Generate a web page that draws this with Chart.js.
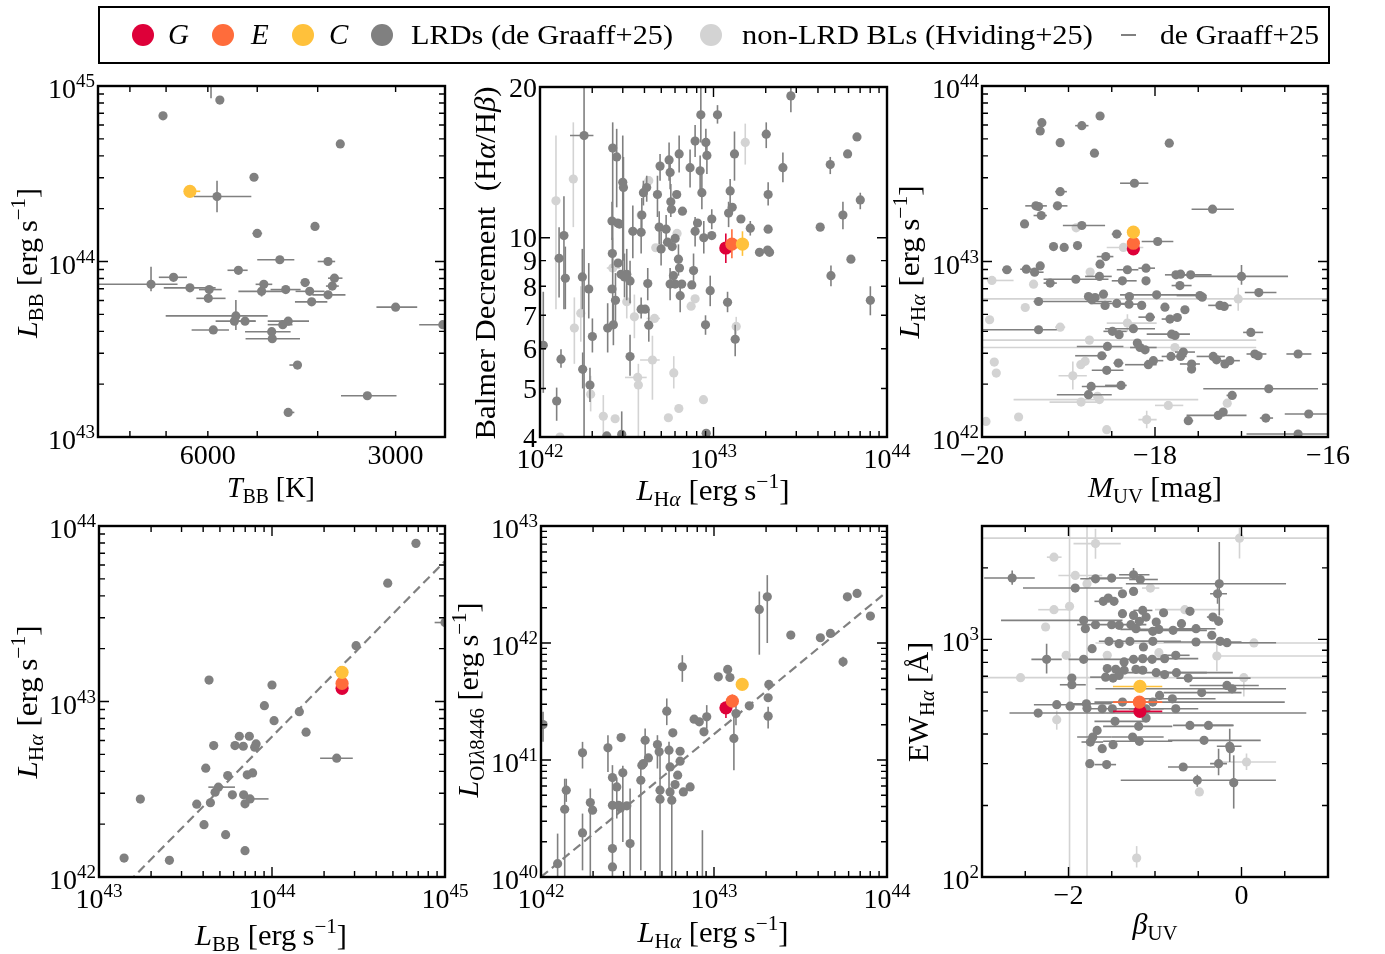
<!DOCTYPE html>
<html><head><meta charset="utf-8">
<script src="https://cdn.jsdelivr.net/npm/chart.js@4/dist/chart.umd.min.js"></script>
<style>
html,body{margin:0;padding:0;background:#fff;}
body{width:1385px;height:954px;position:relative;overflow:hidden;}
canvas{position:absolute;left:0;top:0;}
</style></head>
<body>
<canvas id="c1" width="1385" height="954"></canvas>
<canvas id="c2" width="1385" height="954"></canvas>
<canvas id="c3" width="1385" height="954"></canvas>
<canvas id="c4" width="1385" height="954"></canvas>
<canvas id="c5" width="1385" height="954"></canvas>
<canvas id="c6" width="1385" height="954"></canvas>
<canvas id="lg" width="1385" height="954"></canvas>
<script>
// ---------------- DATA ----------------
// rows: [x, y, xLo, xHi, yLo, yHi]  (luminosities / EW given as log10 values)
const legendLabels = ['G', 'E', 'C', 'LRDs (de Graaff+25)', 'non-LRD BLs (Hviding+25)', 'de Graaff+25'];

// Panel 1: T_BB [K] vs log L_BB
const p1LRD = [
[7080,44.83],[5740,44.92],[5930,45.10,null,null,44.93,45.2],[3680,44.67],[5060,44.48],
[5800,44.37,5110,6320,44.28,44.46],[4040,44.20],[5000,44.16,4910,5090],[4600,44.01,4360,5000],
[3850,44.00,3750,4000],[5360,43.95,5180,5580],[6810,43.91,6480,7190],[7400,43.87,6710,9300,43.83,43.97],
[3760,43.905,3650,3850],[3790,43.86,3700,3880],[6410,43.85,5830,7060],[5970,43.84,5700,6200],
[4880,43.87,4730,5030],[4920,43.83,4500,5360,43.80,43.87],[4500,43.84,4260,4760],[4190,43.88,4120,4260],
[4120,43.83,3900,4340],[3850,43.81,3610,4080],[5990,43.79,5620,6260],[4090,43.77,3860,4350],
[3000,43.74,2770,3220],[5410,43.69,4810,7010,43.61,43.78],[5440,43.66,5030,5830],[5230,43.66,5030,5480],
[4460,43.66,4130,4810],[4550,43.64,4390,4810],[5880,43.61,5550,6370],[4740,43.60,4420,5230],
[4730,43.56,4270,5220],[2520,43.64,2400,2750],[4310,43.41,4260,4440],[3330,43.235,2990,3670],
[4460,43.14,4360,4500]
];
const p1C = [[6410,44.40,6170,6450]];

// Panel 2: log L_Halpha vs Balmer decrement
const p2LRD = [
[42.019,6.1,null,null,4.9,7.8],[42.096,4.72,null,null,4.31,5.02],[42.110,9.1,null,null,7.6,10.5],
[42.121,5.72,null,null,5.5,5.99],[42.138,10.1,null,null,7.2,12.1],[42.146,8.3,null,null,7.2,9.6],
[42.244,8.35,null,null,7.2,9.5],[42.254,16.0,42.173,42.308,4.0,20.5],[42.246,5.46,null,null,5.0,5.9],
[42.281,7.9,null,null,6.9,8.9],[42.288,5.08,null,null,4.7,5.5],[42.302,6.35,null,null,5.9,6.9],
[42.385,4.02],[42.390,6.6,null,null,5.9,7.4],[42.419,15.1,null,null,6.8,17.0],[42.415,10.8,null,null,9.9,11.8],
[42.417,9.3,null,null,8.7,10.0],[42.415,7.9],[42.423,6.7,null,null,6.1,7.4],[42.435,7.5,null,null,6.6,8.5],
[42.442,14.5,null,null,11.5,16.5],[42.448,10.7],[42.450,8.9],[42.458,10.65],[42.467,8.45],
[42.471,4.05,null,null,3.9,4.5],[42.477,12.9,null,null,8.2,16.0],[42.481,12.6,null,null,9.0,14.5],
[42.487,8.35,null,null,7.6,9.3],[42.500,8.45,null,null,7.5,9.5],[42.519,8.2,null,null,7.4,9.0],
[42.519,5.79,null,null,5.3,6.4],[42.535,10.3,null,null,9.1,11.6],[42.583,10.25,null,null,9.3,11.2],
[42.587,11.1,null,null,10.3,12.0],[42.596,12.3,null,null,11.6,13.0],[42.615,12.6,null,null,11.8,13.3],
[42.621,8.1,null,null,7.5,8.7],[42.583,7.2,null,null,6.9,7.6],[42.606,7.2],[42.627,6.69,null,null,6.2,7.2],
[42.677,12.2,null,null,11.0,13.3],[42.687,10.5,null,null,9.7,11.3],[42.692,13.9,null,null,13.0,14.7],
[42.698,9.5,null,null,8.8,10.3],[42.744,14.3,null,null,13.0,15.5],[42.750,13.5,null,null,12.5,14.5],
[42.727,10.4,null,null,9.7,11.1],[42.735,9.8],[42.754,11.8,null,null,11.0,12.8],[42.758,11.4],[42.762,9.6],
[42.750,8.08,null,null,7.5,8.7],[42.769,8.4],[42.779,9.97],[42.788,12.2],[42.798,9.06,null,null,8.4,9.7],
[42.804,8.7],[42.802,14.7,null,null,13.5,16.0],[42.808,7.66,null,null,7.1,8.2],[42.779,8.08],[42.817,8.08],
[42.821,11.3],[42.865,13.8,null,null,12.6,15.0],[42.875,8.05],[42.885,8.6,null,null,8.0,9.3],
[42.894,15.6,null,null,14.5,16.8],[42.894,10.3,null,null,9.6,11.0],[42.908,10.7],
[42.923,13.6,null,null,12.5,14.6],[42.927,17.6,null,null,15.5,20.5],[42.933,12.3,null,null,11.4,13.4],
[42.944,10.0,null,null,9.3,10.8],[42.956,15.5,null,null,14.5,16.5],[42.962,14.6,null,null,13.4,15.8],
[42.958,4.07],[42.954,6.7,null,null,6.4,7.0],[42.981,7.84,null,null,7.3,8.4],[42.990,10.9,null,null,10.4,11.4],
[42.990,10.1],[43.023,17.6,null,null,16.9,18.4],[43.081,7.43,null,null,7.1,7.8],[43.087,11.2,null,null,10.5,11.8],
[43.096,12.4,null,null,11.6,13.1],[43.108,11.5],[43.121,14.7,null,null,13.0,16.3],[43.125,6.27,null,null,5.8,6.7],
[43.158,10.9],[43.212,10.45,null,null,10.1,10.8],[43.265,9.35],[43.304,16.1,null,null,15.1,17.0],
[43.315,12.2,null,null,11.6,12.9],[43.315,10.4],[43.312,9.45],[43.323,9.35],[43.400,13.8,null,null,12.9,14.8],
[43.446,19.2,null,null,17.8,20.5],[43.615,10.5],[43.673,14.0,null,null,13.4,14.5],[43.677,8.4,null,null,8.0,8.8],
[43.746,11.1,null,null,10.4,11.8],[43.773,14.7],[43.792,9.06],[43.827,15.9],[43.846,11.9,null,null,11.4,12.3],
[43.904,7.5,null,null,7.0,8.0]
];
const p2BL = [
[42.092,11.85,null,null,7.2,16.0],[42.192,13.1,null,null,10.5,17.0],[42.235,7.07,null,null,6.2,8.0],
[42.198,6.6,null,null,5.6,7.6],[42.115,4.0],[42.292,4.87,null,null,4.5,5.3],[42.365,4.4,null,null,4.0,4.85],
[42.433,4.35],[42.419,8.7,42.385,42.462],[42.500,7.45,null,null,6.9,8.0],[42.544,6.95,null,null,6.3,7.7],
[42.563,5.26,42.49,42.615],[42.567,5.08,null,null,3.9,5.6],[42.648,5.7,42.577,42.69,4.75,6.37],
[42.660,6.9,42.615,42.692],[42.667,9.55],[42.583,11.1],[42.627,13.0],[42.740,4.37],
[42.771,5.37,null,null,5.0,5.8],[42.800,4.56],[42.790,10.2],[42.871,7.3],[42.894,7.55],[42.942,4.75],
[43.131,6.65,null,null,6.4,6.95],[43.183,15.5,null,null,14.0,16.9]
];
const p2G = [[43.071,9.54,null,null,8.9,10.2]];
const p2E = [[43.106,9.71,null,null,9.1,10.4]];
const p2C = [[43.167,9.71,null,null,9.2,10.3]];

// Panel 3: M_UV vs log L_Halpha
const p3LRD = [
[-19.308,43.791,-19.35,-19.27],[-19.327,43.744,-19.37,-19.29],[-18.846,43.774,-18.923,-18.769],[-18.635,43.829],
[-19.096,43.677],[-18.700,43.617],[-17.835,43.674,-17.885,-17.788],[-18.238,43.446,-18.404,-18.077],
[-19.096,43.398,-19.154,-19.019],[-17.335,43.298,-17.577,-17.088],[-19.377,43.317,-19.500,-19.250],[-19.346,43.313],
[-19.127,43.317,-19.181,-19.012],[-19.315,43.262,-19.404,-19.250],[-19.508,43.214],[-18.846,43.205,-19.065,-18.577],
[-18.442,43.156,-18.500,-18.385],[-17.969,43.114,-18.154,-17.788],[-19.173,43.085],[-19.050,43.080],[-18.896,43.091],
[-18.569,43.028,-18.673,-18.481],[-18.635,42.985],[-19.712,42.953,-19.769,-19.654],[-19.488,42.956,-19.558,-19.423],
[-19.327,42.975],[-19.392,42.939,-19.442,-19.288],[-18.319,42.953,-18.442,-18.192],[-18.104,42.962,-18.192,-18.000],
[-19.212,42.877,-19.288,-19.135],[-18.915,42.899,-19.288,-18.538],[-18.642,42.915,-18.808,-18.500],
[-18.377,42.890,-18.500,-18.212],[-18.104,42.890],[-17.758,42.924,-17.885,-17.615],[-17.704,42.928],
[-17.588,42.924,-17.750,-17.346],[-17.712,42.863,-17.808,-17.577],[-17.000,42.915,-17.596,-16.462,42.868,42.980],
[-16.800,42.823,-16.962,-16.596],[-19.346,42.772,-19.404,-18.500],[-18.769,42.800],[-18.730,42.782],[-18.692,42.795],
[-18.596,42.814],[-18.577,42.750],[-18.442,42.761,-18.750,-18.288],[-18.296,42.800],[-18.300,42.757,-18.404,-18.135],
[-18.154,42.750],[-17.981,42.810,-18.404,-17.481],[-17.885,42.740],[-17.654,42.725],[-17.481,42.806,-17.750,-17.404],
[-17.454,42.797],[-17.250,42.750,-17.385,-17.115],[-17.200,42.744],[-18.058,42.683,-18.192,-18.000],
[-17.827,42.672,-17.923,-17.731],[-17.742,42.681],[-18.250,42.617,-18.577,-18.000],[-18.492,42.602,-18.596,-18.327],
[-18.415,42.583],[-17.808,42.586,-18.096,-17.596],[-17.769,42.579],[-16.892,42.596,-16.981,-16.750],
[-19.346,42.611,-20.100,-19.135],[-18.550,42.516,-18.904,-18.365],[-18.204,42.535],[-18.173,42.510,-18.288,-17.981],
[-18.115,42.497],[-17.673,42.484,-17.769,-17.538],[-18.615,42.463,-18.923,-18.558],[-18.423,42.421,-18.481,-18.365],
[-18.019,42.435,-18.096,-17.904],[-17.815,42.459,-17.923,-17.635],[-17.704,42.459],[-17.577,42.416,-17.712,-17.481],
[-17.577,42.387],[-17.327,42.459,-17.519,-17.192],[-17.288,42.440],[-17.192,42.416],[-17.135,42.435,-17.269,-17.019],
[-16.846,42.473,-16.942,-16.712],[-16.808,42.463],[-16.346,42.473,-16.481,-16.192],[-18.077,42.412,-18.346,-17.981],
[-18.558,42.380,-18.731,-18.365],[-18.738,42.288,-18.846,-18.365],[-18.392,42.294,-18.577,-18.327],
[-18.769,42.241,-19.135,-18.500],[-16.685,42.275,-17.442,-16.115],[-17.108,42.237,-17.173,-17.058],
[-17.615,42.093,-17.654,-17.558],[-17.269,42.123,-17.635,-16.942],[-17.212,42.142],[-16.719,42.108,-16.788,-16.635],
[-16.223,42.131,-16.500,-15.900],[-16.346,42.017,-16.942,-15.900]
];
const p3BL = [
[-19.885,42.892,-19.942,-19.635],[-19.404,42.871],[-19.500,42.738],[-19.912,42.668,-19.960,-19.865],
[-19.096,42.626,-19.154,-19.038],[-18.319,42.649,-18.558,-17.981,42.600,42.700],[-18.758,42.552,-20.500,-16.830],
[-17.770,42.510,-20.500,-16.830],[-17.038,42.787,-20.500,-15.500,42.720,42.850],[-19.858,42.427],[-19.835,42.364],
[-18.808,42.431],[-18.858,42.412],[-18.950,42.349,-19.115,-18.788,42.270,42.430],[-18.642,42.213,-19.635,-17.500],
[-18.665,42.232],[-18.854,42.199,-19.219,-18.615],[-17.846,42.180,-18.000,-17.673],[-17.165,42.193],
[-18.096,42.099,-18.192,-17.981,42.050,42.150],[-19.577,42.114],[-19.954,42.089],[-18.558,42.042],
[-18.912,43.192],[-18.365,43.080,-18.558,-18.135],[-18.750,42.940]
];
const p3G = [[-18.25,43.072]];
const p3E = [[-18.25,43.104]];
const p3C = [[-18.25,43.167]];

// Panel 4: log L_BB vs log L_Halpha
const p4LRD = [
[43.145,42.108],[43.239,42.444],[43.407,42.095],[43.565,42.415],[43.607,42.298],[43.617,42.620],[43.636,43.122],
[43.644,42.423],[43.663,42.749],[43.671,42.483],[43.690,42.512,43.632,43.786],[43.732,42.241],[43.744,42.578],
[43.771,42.468],[43.786,42.749],[43.811,42.802],[43.834,42.745],[43.836,42.468],[43.844,42.417],[43.844,42.150],
[43.869,42.802],[43.857,42.582],[43.888,42.593],[43.908,42.758],[43.900,42.740],[43.873,42.445,43.855,43.980],
[43.956,42.976],[44.000,43.094],[44.012,42.891],[44.158,42.942],[44.197,42.825],[44.374,42.677,44.278,44.467],
[44.486,43.318],[44.669,43.674],[44.832,43.901],[45.000,43.450,44.940,45.100]
];
const p4G = [[44.405,43.075]];
const p4E = [[44.405,43.103]];
const p4C = [[44.405,43.166]];
const p4Relation = [[43.0,41.8],[45.0,43.8]];

// Panel 5: log L_Halpha vs log L_OI8446
const p5LRD = [
[42.012,41.303,null,null,41.155,41.412],[42.096,40.114,null,null,39.9,40.371],[42.137,40.579,null,null,39.9,40.84],
[42.146,40.742,null,null,40.642,40.84],[42.240,41.061,null,null,40.927,41.155],[42.240,40.377,null,null,40.057,40.542],
[42.285,40.636,null,null,39.9,40.756],[42.298,40.571],[42.387,41.104,null,null,40.898,41.212],
[42.413,40.850,null,null,39.9,40.956],[42.413,40.613],[42.413,40.243],[42.413,40.086],
[42.438,40.770,null,null,40.5,40.85],[42.448,40.613],[42.463,41.192],[42.473,40.890,null,null,40.3,40.95],
[42.460,40.590],[42.496,40.608],[42.515,40.286,null,null,39.9,40.756],[42.577,40.827,null,null,40.057,40.956],
[42.583,40.955],[42.602,41.169,null,null,40.984,41.269],[42.621,41.018],[42.592,40.970],
[42.673,41.132,null,null,40.927,41.212],[42.683,41.070],[42.688,40.742,null,null,39.9,41.04],[42.688,40.665],
[42.727,41.417,null,null,41.298,41.526],[42.740,41.084,null,null,40.727,41.155],[42.746,40.941],[42.746,40.727],
[42.756,40.656,null,null,39.9,40.75],[42.762,41.232],[42.775,40.790],[42.790,40.870],[42.804,41.075],[42.804,40.990],
[42.823,40.727],[42.817,41.797,null,null,41.668,41.896],[42.862,40.770],[42.885,41.349],[42.915,41.326],
[42.942,41.241],[42.958,41.369,null,null,41.269,41.469],[43.025,41.711],[43.079,41.774],[43.092,41.705],
[43.127,41.397,null,null,41.298,41.497],[43.115,41.184,null,null,40.913,41.383],[43.204,41.463],
[43.262,42.287,null,null,41.9,42.44],[43.308,42.395,null,null,42.0,42.58],[43.313,41.532],[43.317,41.646],
[43.313,41.375,null,null,41.27,41.455],[43.444,42.068],[43.615,42.045],[43.673,42.082],
[43.746,41.839,null,null,41.797,41.882],[43.771,42.395],[43.827,42.424],[43.904,42.230],
[42.933,39.800,null,null,39.7,40.4]
];
const p5G = [[43.069,41.446,null,null,41.36,41.50]];
const p5E = [[43.106,41.503,null,null,41.46,41.56]];
const p5C = [[43.163,41.646,null,null,41.60,41.70]];
const p5Relation = [[42.0,40.0],[44.0,42.44]];

// Panel 6: beta_UV vs log EW_Halpha
const p6LRD = [
[-2.651,3.258,-2.975,-2.390,3.23,3.29],[-1.922,3.216,-2.526,-1.376],[-1.688,3.255,-1.864,-1.454],
[-1.501,3.258,-1.766,-1.279],[-1.248,3.272,-1.415,-1.064,3.25,3.30],[-1.170,3.252,-1.298,-0.967],
[-0.257,3.234,-1.337,0.515,3.101,3.41],[-0.277,3.192,-0.363,-0.168,3.15,3.227],[-1.598,3.160,-1.700,-1.500],
[-1.540,3.174],[-1.474,3.160],[-1.376,3.192],[-1.248,3.202],[-1.376,3.108],[-1.248,3.101],
[-1.142,3.122,-1.250,-1.030],[-1.103,3.094],[-0.901,3.112],[-0.596,3.118],[-1.825,3.080,-2.780,-1.376],
[-1.805,3.045],[-1.688,3.062],[-1.501,3.062,-1.900,-1.100],[-1.415,3.059],[-1.279,3.062],[-1.220,3.045],
[-1.181,3.076],[-0.986,3.073],[-0.955,3.042,-1.400,-0.500],[-1.025,3.034],[-0.791,3.038,-1.200,-0.400],
[-0.694,3.066],[-0.526,3.045,-0.800,-0.300],[-0.331,3.094,-0.400,-0.250],[-0.265,3.076],
[-1.532,2.992,-1.649,-0.986],[-1.415,2.982],[-1.290,2.992],[-1.025,2.992,-1.300,-0.700],
[-0.526,2.989,-0.900,0.000],[-0.343,3.017],[-0.246,2.992],[-0.168,2.986,-0.300,0.400],[-1.727,2.961],
[-1.134,2.968],[-2.253,2.916,-2.429,-2.078,2.856,2.982],[-1.825,2.916,-2.000,-1.600],[-1.357,2.905],
[-1.248,2.916,-1.600,-0.900],[-1.142,2.919],[-1.033,2.916],[-0.889,2.919,-1.200,-0.500],
[-0.760,2.933,-0.900,-0.600],[-1.552,2.877],[-1.454,2.874],[-1.357,2.870],[-1.220,2.874],[-1.142,2.870],
[-0.986,2.860,-1.400,-0.400],[-0.889,2.852],[-0.752,2.860,-1.000,-0.100],[-0.616,2.837,-0.752,0.105],
[-1.571,2.841,-1.750,-1.400],[-1.485,2.837],[-1.415,2.848],[-1.961,2.837],[-1.961,2.809,-2.100,-1.800],
[-0.460,2.776,-0.900,0.000],[-0.168,2.806,-0.600,0.200],[-0.109,2.792,-1.688,0.515],
[-2.136,2.725,-2.400,-1.800],[-1.981,2.719],[-1.793,2.729,-2.000,-1.500],[-1.786,2.710],
[-2.351,2.690,-2.682,0.749],[-1.493,2.708,-1.800,-0.900],[-1.376,2.736],[-1.025,2.736,-1.700,0.500],
[-0.947,2.764],[-0.799,2.750,-1.200,-0.300],[-0.760,2.708,-1.300,-0.500],[-1.103,2.708],
[-1.462,2.655,-1.700,-1.100],[-0.596,2.638,-0.791,-0.090],[-0.382,2.638,-0.600,-0.100],[-1.669,2.617],
[-1.189,2.634,-1.600,-0.800],[-1.103,2.669],[-1.719,2.589,-1.900,-1.500],[-1.747,2.568,-1.850,-1.600],
[-1.610,2.540],[-1.485,2.557],[-1.259,2.589,-1.500,-0.900],[-1.181,2.571,-1.600,-0.800],
[-0.433,2.575,-0.850,0.222],[-0.136,2.550,-0.285,0.000,2.484,2.624],[-0.129,2.540],[-1.754,2.477],
[-1.559,2.473,-1.700,-1.450],[-0.674,2.463,-0.850,-0.304],[-0.265,2.477,-0.363,-0.168,2.428,2.540],
[-0.511,2.407,-1.396,0.398,2.380,2.430],[-0.090,2.397,null,null,2.288,2.512],[-1.610,2.708]
];
const p6BL = [
[-1.688,3.403,-1.942,-1.396,3.339,3.466],[-2.168,3.346,-2.250,-2.080],[-1.922,3.269,-2.117,-1.610],
[-1.786,3.234,null,null,2.0,3.5],[-1.053,3.216,-1.150,-0.950],[-2.168,3.125,-2.350,-2.000],
[-1.988,3.139,null,null,2.0,3.5],[-0.655,3.125,-1.000,-0.200],[-0.023,3.426,-3.200,1.200,3.34,3.47],
[-2.027,2.933],[-1.552,2.933],[-0.955,2.944],[-0.285,2.930,-0.300,1.200,2.866,2.99],
[0.144,2.985,-1.688,1.200,2.97,3.0],[-2.554,2.839],[0.027,2.839,-3.200,1.200,2.76,2.85],
[-2.136,2.662,null,null,2.62,2.70],[0.058,2.484,-0.300,0.400,2.45,2.52],[-0.487,2.358],
[-1.212,2.080,null,null,2.04,2.13],[-2.265,3.052]
];
const p6G = [[-1.174,2.697,-1.486,-0.916]];
const p6E = [[-1.181,2.736,-1.486,-0.916]];
const p6C = [[-1.174,2.802,-1.486,-0.916]];

// ---------------- STYLE ----------------
const COL = {G:'#de0039', E:'#ff6c3b', C:'#ffc13b', LRD:'#808080', BL:'#d3d3d3', REL:'#808080'};
const FONT = '"Liberation Serif", "DejaVu Serif", serif';
function fnt(s, i){ return (i ? 'italic ' : '') + s + 'px ' + FONT; }
function richWidth(ctx, segs){ let w = 0; segs.forEach(g => { ctx.font = fnt(g.s, g.i); w += ctx.measureText(g.t).width; }); return w; }
function drawRich(ctx, segs, x, y, opt){
  opt = opt || {};
  ctx.save();
  ctx.translate(x, y);
  if (opt.rot) ctx.rotate(opt.rot);
  const w = richWidth(ctx, segs);
  let sx = 1;
  if (opt.width) { sx = opt.width / w; if (sx < 0.8) sx = 0.8; if (sx > 1.25) sx = 1.25; }
  ctx.scale(sx, 1);
  let x0 = opt.align === 'right' ? -w : (opt.align === 'left' ? 0 : -w / 2);
  ctx.fillStyle = opt.color || '#000';
  ctx.textAlign = 'left'; ctx.textBaseline = 'alphabetic';
  segs.forEach(g => { ctx.font = fnt(g.s, g.i); ctx.fillText(g.t, x0, g.dy || 0); x0 += ctx.measureText(g.t).width; });
  ctx.restore();
}
const TT = (t, i) => ({t, s:29, i:!!i});
const SB = (t, i) => ({t, s:20, i:!!i, dy:6});
const SP = (t) => ({t, s:20, dy:-12});
const UNIT = [TT(' [erg\u2009s'), SP('\u22121'), TT(']')];
const LBB = [TT('L',1), SB('BB')].concat(UNIT);
const LHA = [TT('L',1), SB('H'), SB('\u03b1',1)].concat(UNIT);

function lab(t){
  if (typeof t === 'number') return [{t:'10', s:28}, {t:String(t), s:19, dy:-11}];
  return [{t:t, s:28}];
}
function logTicks(min, max){
  const out = [];
  for (let e = Math.floor(Math.log10(min)); e <= Math.ceil(Math.log10(max)); e++)
    for (let k = 1; k < 10; k++){ const v = k * Math.pow(10, e); if (v >= min * 0.999 && v <= max * 1.001) out.push({v, major:k === 1}); }
  return out;
}
function linTicks(min, max, step, majorStep){
  const out = [];
  for (let v = min; v <= max + 1e-9; v += step){ const q = v / majorStep; out.push({v, major:Math.abs(q - Math.round(q)) < 1e-6}); }
  return out;
}
function series(rows, xl, yl, color, r, order, label){
  const fx = v => xl ? Math.pow(10, v) : v, fy = v => yl ? Math.pow(10, v) : v;
  const data = [], xe = [], ye = [];
  rows.forEach(q => {
    data.push({x:fx(q[0]), y:fy(q[1])});
    xe.push(q[2] != null ? [fx(q[2]), fx(q[3])] : null);
    ye.push(q[4] != null ? [fy(q[4]), fy(q[5])] : null);
  });
  return {label, data, xe, ye, errColor:color, backgroundColor:color, pointBackgroundColor:color,
          borderWidth:0, pointBorderWidth:0, pointRadius:r, showLine:false, order};
}
function relation(rows){
  return {type:'line', data:rows.map(q => ({x:Math.pow(10, q[0]), y:Math.pow(10, q[1])})), borderColor:COL.REL,
          borderWidth:2.2, borderDash:[9,5], pointRadius:0, fill:false, order:9};
}
function std(rows, xl, yl, which){
  const m = {LRD:[COL.LRD,4.6,4], BL:[COL.BL,4.6,5], G:[COL.G,6.6,3], E:[COL.E,6.6,2], C:[COL.C,6.6,1]}[which];
  return series(rows, xl, yl, m[0], m[1], m[2], which);
}

const errPlugin = {
  id:'errbars',
  beforeDatasetDraw(chart, args){
    const ds = chart.data.datasets[args.index];
    if (!ds.xe && !ds.ye) return;
    const ctx = chart.ctx, xs = chart.scales.x, ys = chart.scales.y, a = chart.chartArea;
    ctx.save();
    ctx.beginPath(); ctx.rect(a.left, a.top, a.right - a.left, a.bottom - a.top); ctx.clip();
    ctx.strokeStyle = ds.errColor; ctx.lineWidth = 1.6;
    ds.data.forEach((p, i) => {
      const px = xs.getPixelForValue(p.x), py = ys.getPixelForValue(p.y);
      const xe = ds.xe && ds.xe[i], ye = ds.ye && ds.ye[i];
      if (!xe && !ye) return;
      ctx.beginPath();
      if (xe){ ctx.moveTo(xs.getPixelForValue(xe[0]), py); ctx.lineTo(xs.getPixelForValue(xe[1]), py); }
      if (ye){ ctx.moveTo(px, ys.getPixelForValue(ye[0])); ctx.lineTo(px, ys.getPixelForValue(ye[1])); }
      ctx.stroke();
    });
    ctx.restore();
  }
};

function axesPlugin(P){
  return {
    id:'axes_' + P.id,
    afterDraw(chart){
      const ctx = chart.ctx, a = chart.chartArea, xs = chart.scales.x, ys = chart.scales.y;
      ctx.save();
      ctx.strokeStyle = '#000'; ctx.lineWidth = 1.4;
      ctx.beginPath();
      P.x.ticks.forEach(t => { const px = xs.getPixelForValue(t.v), L = t.major ? 10 : 6;
        ctx.moveTo(px, a.bottom); ctx.lineTo(px, a.bottom - L); ctx.moveTo(px, a.top); ctx.lineTo(px, a.top + L); });
      P.y.ticks.forEach(t => { const py = ys.getPixelForValue(t.v), L = t.major ? 10 : 6;
        ctx.moveTo(a.left, py); ctx.lineTo(a.left + L, py); ctx.moveTo(a.right, py); ctx.lineTo(a.right - L, py); });
      ctx.stroke();
      ctx.lineWidth = 2.4;
      ctx.strokeRect(a.left, a.top, a.right - a.left, a.bottom - a.top);
      ctx.restore();
      P.x.labels.forEach(l => { const sup = typeof l[1] === 'number';
        drawRich(ctx, lab(l[1]), xs.getPixelForValue(l[0]), a.bottom + (sup ? 31 : 27), {align:'center'}); });
      P.y.labels.forEach(l => { const sup = typeof l[1] === 'number';
        drawRich(ctx, lab(l[1]), a.left - 3, ys.getPixelForValue(l[0]) + (sup ? 12 : 9.5), {align:'right'}); });
      drawRich(ctx, P.xt.segs, P.xt.x, P.xt.y, {align:'center', width:P.xt.w});
      drawRich(ctx, P.yt.segs, P.yt.x, P.yt.y, {align:'center', rot:-Math.PI / 2, width:P.yt.w});
    }
  };
}

const panels = [
  {id:'c1', box:[98,86,445,437],
   x:{type:'logarithmic', min:2500, max:9000, reverse:true, ticks:logTicks(2500,9000), labels:[[6000,'6000'],[3000,'3000']]},
   y:{type:'logarithmic', min:1e43, max:1e45, ticks:logTicks(1e43,1e45), labels:[[1e43,43],[1e44,44],[1e45,45]]},
   sets:[std(p1LRD,false,true,'LRD'), std(p1C,false,true,'C')],
   xt:{segs:[TT('T',1), SB('BB'), TT(' [K]')], x:271, y:497, w:88},
   yt:{segs:LBB, x:37, y:263, w:150}},
  {id:'c2', box:[540,87,887,437],
   x:{type:'logarithmic', min:1e42, max:1e44, ticks:logTicks(1e42,1e44), labels:[[1e42,42],[1e43,43],[1e44,44]]},
   y:{type:'logarithmic', min:4, max:20, ticks:logTicks(4,20), labels:[[4,'4'],[5,'5'],[6,'6'],[7,'7'],[8,'8'],[9,'9'],[10,'10'],[20,'20']]},
   sets:[std(p2BL,true,false,'BL'), std(p2LRD,true,false,'LRD'), std(p2G,true,false,'G'), std(p2E,true,false,'E'), std(p2C,true,false,'C')],
   xt:{segs:LHA, x:713, y:500, w:153},
   yt:{segs:[TT('Balmer Decrement  (H'), TT('\u03b1',1), TT('/H'), TT('\u03b2',1), TT(')')], x:495, y:263, w:353}},
  {id:'c3', box:[982,86,1328,437],
   x:{type:'linear', min:-20, max:-16, ticks:linTicks(-20,-16,0.5,2), labels:[[-20,'\u221220'],[-18,'\u221218'],[-16,'\u221216']]},
   y:{type:'logarithmic', min:1e42, max:1e44, ticks:logTicks(1e42,1e44), labels:[[1e42,42],[1e43,43],[1e44,44]]},
   sets:[std(p3BL,false,true,'BL'), std(p3LRD,false,true,'LRD'), std(p3G,false,true,'G'), std(p3E,false,true,'E'), std(p3C,false,true,'C')],
   xt:{segs:[TT('M',1), SB('UV'), TT(' [mag]')], x:1155, y:497, w:134},
   yt:{segs:LHA, x:919, y:262, w:153}},
  {id:'c4', box:[99,526,445,877],
   x:{type:'logarithmic', min:1e43, max:1e45, ticks:logTicks(1e43,1e45), labels:[[1e43,43],[1e44,44],[1e45,45]]},
   y:{type:'logarithmic', min:1e42, max:1e44, ticks:logTicks(1e42,1e44), labels:[[1e42,42],[1e43,43],[1e44,44]]},
   sets:[relation(p4Relation), std(p4LRD,true,true,'LRD'), std(p4G,true,true,'G'), std(p4E,true,true,'E'), std(p4C,true,true,'C')],
   xt:{segs:LBB, x:271, y:945, w:152},
   yt:{segs:LHA, x:37, y:702, w:153}},
  {id:'c5', box:[541,526,887,877],
   x:{type:'logarithmic', min:1e42, max:1e44, ticks:logTicks(1e42,1e44), labels:[[1e42,42],[1e43,43],[1e44,44]]},
   y:{type:'logarithmic', min:1e40, max:1e43, ticks:logTicks(1e40,1e43), labels:[[1e40,40],[1e41,41],[1e42,42],[1e43,43]]},
   sets:[relation(p5Relation), std(p5LRD,true,true,'LRD'), std(p5G,true,true,'G'), std(p5E,true,true,'E'), std(p5C,true,true,'C')],
   xt:{segs:LHA, x:713, y:942, w:151},
   yt:{segs:[TT('L',1), SB('OI'), SB('\u03bb',1), SB('8446')].concat(UNIT), x:478, y:700, w:195}},
  {id:'c6', box:[982,526,1328,877],
   x:{type:'linear', min:-3, max:1, ticks:linTicks(-3,1,0.5,2), labels:[[-2,'\u22122'],[0,'0']]},
   y:{type:'logarithmic', min:100, max:3000, ticks:logTicks(100,3000), labels:[[100,2],[1000,3]]},
   sets:[std(p6BL,false,true,'BL'), std(p6LRD,false,true,'LRD'), std(p6G,false,true,'G'), std(p6E,false,true,'E'), std(p6C,false,true,'C')],
   xt:{segs:[TT('\u03b2',1), SB('UV')], x:1155, y:934, w:45},
   yt:{segs:[TT('EW'), SB('H'), SB('\u03b1',1), TT(' [\u00c5]')], x:928, y:702, w:120}}
];

panels.forEach(P => {
  const b = P.box;
  new Chart(document.getElementById(P.id), {
    type:'scatter',
    data:{datasets:P.sets},
    options:{
      responsive:false, animation:false, events:[],
      layout:{padding:{left:b[0], top:b[1], right:1385 - b[2], bottom:954 - b[3]}},
      plugins:{legend:{display:false}, tooltip:{enabled:false}},
      scales:{
        x:{type:P.x.type, min:P.x.min, max:P.x.max, reverse:!!P.x.reverse, display:false},
        y:{type:P.y.type, min:P.y.min, max:P.y.max, display:false}
      }
    },
    plugins:[errPlugin, axesPlugin(P)]
  });
});

// ---------------- LEGEND ----------------
(function(){
  const ctx = document.getElementById('lg').getContext('2d');
  ctx.lineWidth = 2; ctx.strokeStyle = '#000';
  ctx.strokeRect(99, 7, 1230, 56);
  const cy = 35;
  [[143,COL.G],[223,COL.E],[303,COL.C],[382,COL.LRD],[711,COL.BL]].forEach(d => {
    ctx.beginPath(); ctx.arc(d[0], cy, 11, 0, 2 * Math.PI); ctx.fillStyle = d[1]; ctx.fill();
  });
  drawRich(ctx, [{t:legendLabels[0], s:29, i:true}], 168, 44, {align:'left'});
  drawRich(ctx, [{t:legendLabels[1], s:29, i:true}], 251, 44, {align:'left'});
  drawRich(ctx, [{t:legendLabels[2], s:29, i:true}], 329, 44, {align:'left'});
  drawRich(ctx, [{t:legendLabels[3], s:28}], 411, 44, {align:'left', width:262});
  drawRich(ctx, [{t:legendLabels[4], s:28}], 742, 44, {align:'left', width:351});
  ctx.strokeStyle = COL.REL; ctx.lineWidth = 2;
  ctx.beginPath(); ctx.moveTo(1121, cy); ctx.lineTo(1136, cy); ctx.stroke();
  drawRich(ctx, [{t:legendLabels[5], s:28}], 1160, 44, {align:'left', width:159});
})();
</script>
</body></html>
